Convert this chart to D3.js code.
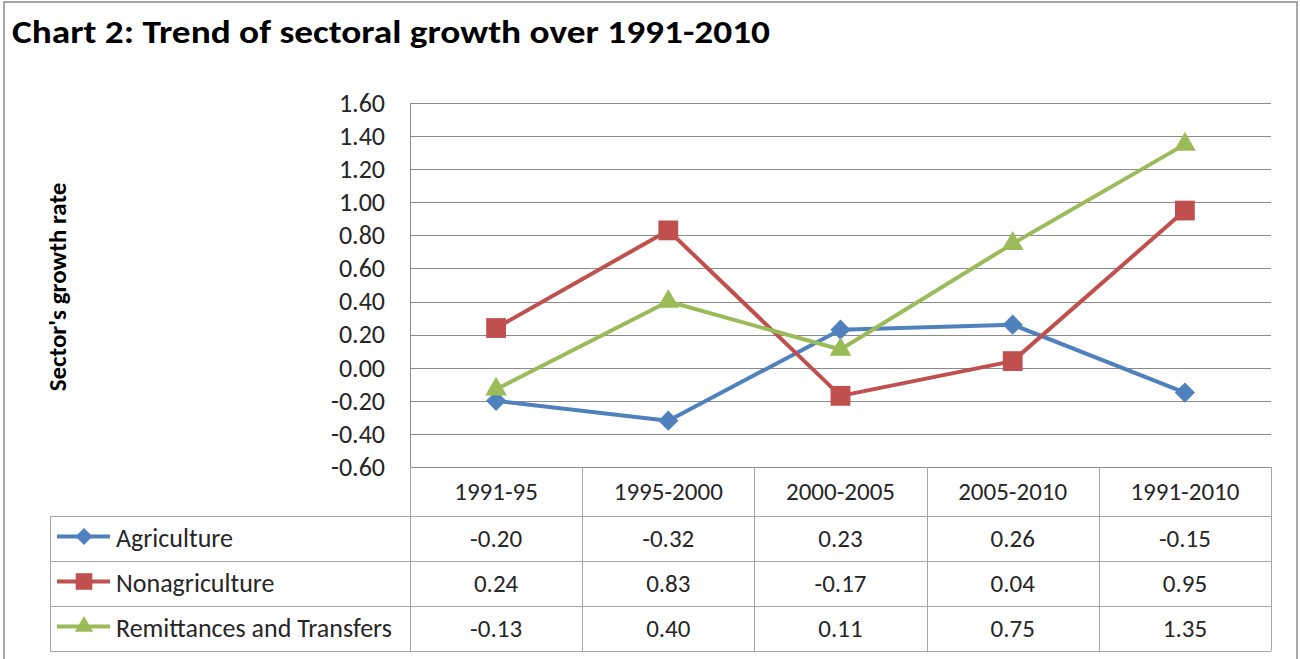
<!DOCTYPE html>
<html>
<head>
<meta charset="utf-8">
<script src="https://cdn.jsdelivr.net/npm/d3@7"></script>
<style>
  body { margin: 0; background: #fff; }
  svg { display: block; font-family: Carlito, "Open Sans", "Noto Sans", sans-serif; }
</style>
</head>
<body>
<div id="chart"></div>
<script>
const periods = ["1991-95", "1995-2000", "2000-2005", "2005-2010", "1991-2010"];
const seriesNames = ["Agriculture", "Nonagriculture", "Remittances and Transfers"];
const agriculture = [-0.20, -0.32, 0.23, 0.26, -0.15];
const nonagriculture = [0.24, 0.83, -0.17, 0.04, 0.95];
const remittances = [-0.13, 0.40, 0.11, 0.75, 1.35];
const yTicks = [-0.6, -0.4, -0.2, 0, 0.2, 0.4, 0.6, 0.8, 1.0, 1.2, 1.4, 1.6];

const colours = ["#4F81BD", "#C0504D", "#9BBB59"];
const symbols = [d3.symbolDiamond2, d3.symbolSquare2, d3.symbolTriangle2];
const markerSize = [260, 500, 340];
const seriesValues = [agriculture, nonagriculture, remittances];

const width = 1300, height = 659;
const plot = { left: 410, right: 1271, top: 103, bottom: 467 };
const rowH = 45;
const tableLeft = 50;
const fmt = d => d3.format(".2f")(d).replace("\u2212", "-");
const fontFam = "Carlito, 'Open Sans', 'Noto Sans', sans-serif";
const textColour = "#262626";

const svg = d3.select("#chart").append("svg")
  .attr("width", width)
  .attr("height", height);

// outer frame
svg.append("rect")
  .attr("x", 4).attr("y", 2)
  .attr("width", 1293).attr("height", 670)
  .attr("fill", "none").attr("stroke", "#8c8c8c").attr("stroke-width", 1.5);

svg.append("text")
  .attr("x", 12).attr("y", 43)
  .attr("font-size", 33).attr("font-weight", "bold")
  .attr("fill", "#000")
  .attr("textLength", 758).attr("lengthAdjust", "spacingAndGlyphs")
  .text("Chart 2: Trend of sectoral growth over 1991-2010");

const x = d3.scaleBand().domain(periods).range([plot.left, plot.right]);
const y = d3.scaleLinear().domain([-0.6, 1.6]).range([plot.bottom, plot.top]);

// gridlines
svg.append("g")
  .selectAll("line")
  .data(yTicks)
  .join("line")
  .attr("x1", plot.left).attr("x2", plot.right)
  .attr("y1", d => Math.round(y(d)) + 0.5).attr("y2", d => Math.round(y(d)) + 0.5)
  .attr("stroke", "#8a8a8a").attr("stroke-width", 1);

// y axis
const yAxis = svg.append("g")
  .attr("transform", `translate(${plot.left},0)`)
  .call(d3.axisLeft(y).tickValues(yTicks).tickFormat(fmt).tickSize(0).tickPadding(25));
yAxis.select(".domain").attr("stroke", "#8a8a8a");
yAxis.selectAll("text")
  .attr("font-size", 26).attr("fill", textColour)
  .attr("font-family", fontFam);

svg.append("text")
  .attr("transform", `translate(66, ${(plot.top + plot.bottom) / 2 + 2}) rotate(-90)`)
  .attr("text-anchor", "middle")
  .attr("font-size", 25).attr("font-weight", "bold")
  .text("Sector's growth rate");

// data table
const tableTop = plot.bottom + 49;
const table = svg.append("g");
const gridStroke = "#a6a6a6";

const vx = [plot.left].concat(periods.map(p => x(p) + x.bandwidth()));
table.selectAll("line.v")
  .data(vx)
  .join("line")
  .attr("class", "v")
  .attr("x1", d => Math.round(d) + 0.5).attr("x2", d => Math.round(d) + 0.5)
  .attr("y1", plot.bottom).attr("y2", tableTop + rowH * 3)
  .attr("stroke", gridStroke);
table.append("line")
  .attr("x1", tableLeft + 0.5).attr("x2", tableLeft + 0.5)
  .attr("y1", tableTop).attr("y2", tableTop + rowH * 3)
  .attr("stroke", gridStroke);
table.selectAll("line.h")
  .data(d3.range(4))
  .join("line")
  .attr("class", "h")
  .attr("x1", tableLeft).attr("x2", plot.right)
  .attr("y1", d => tableTop + d * rowH + 0.5).attr("y2", d => tableTop + d * rowH + 0.5)
  .attr("stroke", gridStroke);

table.selectAll("text.head")
  .data(periods)
  .join("text")
  .attr("class", "head")
  .attr("x", d => x(d) + x.bandwidth() / 2)
  .attr("y", plot.bottom + 33)
  .attr("text-anchor", "middle")
  .attr("font-size", 25).attr("fill", textColour)
  .text(d => d);

seriesNames.forEach((name, i) => {
  const rowY = tableTop + i * rowH;
  const cy = rowY + rowH / 2;
  table.append("line")
    .attr("x1", 57).attr("x2", 110)
    .attr("y1", cy - 2).attr("y2", cy - 2)
    .attr("stroke", colours[i]).attr("stroke-width", 4);
  table.append("path")
    .attr("transform", `translate(84, ${cy - 2})`)
    .attr("d", d3.symbol(symbols[i], markerSize[i] * 0.7)())
    .attr("fill", colours[i]);
  table.append("text")
    .attr("x", 116).attr("y", cy + 8)
    .attr("font-size", 26).attr("fill", textColour)
    .text(name);
  table.selectAll(null)
    .data(seriesValues[i])
    .join("text")
    .attr("x", (d, j) => x(periods[j]) + x.bandwidth() / 2)
    .attr("y", cy + 8)
    .attr("text-anchor", "middle")
    .attr("font-size", 25).attr("fill", textColour)
    .text(d => fmt(d));
});

// lines and markers
const line = d3.line()
  .x((d, j) => x(periods[j]) + x.bandwidth() / 2)
  .y(d => y(d));

seriesValues.forEach((vals, i) => {
  svg.append("path")
    .datum(vals)
    .attr("d", line)
    .attr("fill", "none")
    .attr("stroke", colours[i])
    .attr("stroke-width", 4)
    .attr("stroke-linejoin", "round");
  svg.append("g")
    .selectAll("path")
    .data(vals)
    .join("path")
    .attr("transform", (d, j) => `translate(${x(periods[j]) + x.bandwidth() / 2}, ${y(d)})`)
    .attr("d", d3.symbol(symbols[i], markerSize[i])())
    .attr("fill", colours[i]);
});
</script>
</body>
</html>
